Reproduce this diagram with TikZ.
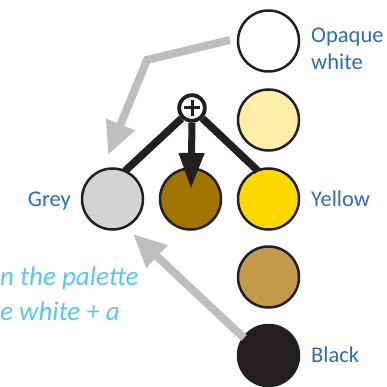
\documentclass[tikz,border=0pt]{standalone}
\usepackage{fontspec}
\setmainfont{Carlito}
\usetikzlibrary{arrows.meta}
\definecolor{ink}{HTML}{231F20}
\definecolor{paintwhite}{HTML}{FFFFFF}
\definecolor{paleyellow}{HTML}{FFEFA8}
\definecolor{paintyellow}{HTML}{FFD900}
\definecolor{paintbrown}{HTML}{A27500}
\definecolor{painttan}{HTML}{C39A4A}
\definecolor{paintgrey}{HTML}{D1D3D4}
\definecolor{mixarrow}{HTML}{BCBEC0}
\definecolor{labelblue}{HTML}{2F6EB5}
\definecolor{noteblue}{HTML}{5BC6EF}
\begin{document}
\begin{tikzpicture}[x=1pt,y=-1pt,
  paint/.style={circle,draw=ink,line width=2.5pt,minimum size=61pt,inner sep=0pt},
  swatchlabel/.style={text=labelblue,font=\fontsize{22.5}{27}\selectfont,inner sep=0pt},
  note/.style={text=noteblue,font=\fontsize{27}{35}\selectfont\itshape,inner sep=0pt,anchor=base west},
  mixline/.style={ink,line width=7.5pt},
  greyarrow/.style={mixarrow,line width=8pt,-{Triangle[length=33pt,width=29pt]}}]
  \useasboundingbox (0,0) rectangle (386,387);
  \begin{scope}
  \clip (0,0) rectangle (386,387);

  % colour swatches
  \node[paint,fill=paintwhite]  (white)  at (268.5,41)  {};
  \node[paint,fill=paleyellow]  (pale)   at (268.5,120) {};
  \node[paint,fill=paintyellow] (yellow) at (268.5,199) {};
  \node[paint,fill=painttan]    (tan)    at (268.5,277) {};
  \node[paint,fill=ink]         (black)  at (268.5,355.5) {};
  \node[paint,fill=paintbrown]  (brown)  at (190.5,199) {};
  \node[paint,fill=paintgrey]   (grey)   at (112.5,199) {};

  % grey arrows from white and black towards grey
  \coordinate (wstart) at (230,40);
  \coordinate (wbend)  at (147,60);
  \coordinate (wtip)   at (108,155);
  \coordinate (bstart) at (244,338);
  \coordinate (btip)   at (133,234);
  \draw[greyarrow] (wstart) -- (wbend) -- (wtip);
  \draw[greyarrow] (bstart) -- (btip);

  % mixing junction
  \node[circle,draw=ink,fill=white,line width=2.5pt,minimum size=27pt,inner sep=0pt] (plus) at (192,108) {};
  \draw[mixline] (plus.225) -- (125,171);
  \draw[mixline] (plus.-45) -- (258,171);
  \draw[ink,line width=7pt,-{Triangle[length=36pt,width=24pt]}] (plus.south) -- (191,189);
  \draw[ink,line width=3pt] ([xshift=-8pt]plus.center) -- ([xshift=8pt]plus.center)
                            ([yshift=-8pt]plus.center) -- ([yshift=8pt]plus.center);
  % redraw junction ring on top of the lines
  \draw[ink,line width=2.5pt] (plus) circle[radius=12.25pt];

  % labels
  \node[swatchlabel,anchor=base west] (lwhite) at (311,43) {Opaque};
  \node[swatchlabel,anchor=base west] (lwhite2) at (311,70) {white};
  \node[swatchlabel,anchor=base west] (lyellow) at (311,206) {Yellow};
  \node[swatchlabel,anchor=base west] (lblack) at (311,362) {Black};
  \node[swatchlabel,anchor=base east] (lgrey) at (71,206) {Grey};

  % caption text running off the left edge
  \node[note] (n1) at (0,285) {n the palette};
  \node[note] (n2) at (0,320) {e white + a};
  \end{scope}
\end{tikzpicture}
\end{document}
